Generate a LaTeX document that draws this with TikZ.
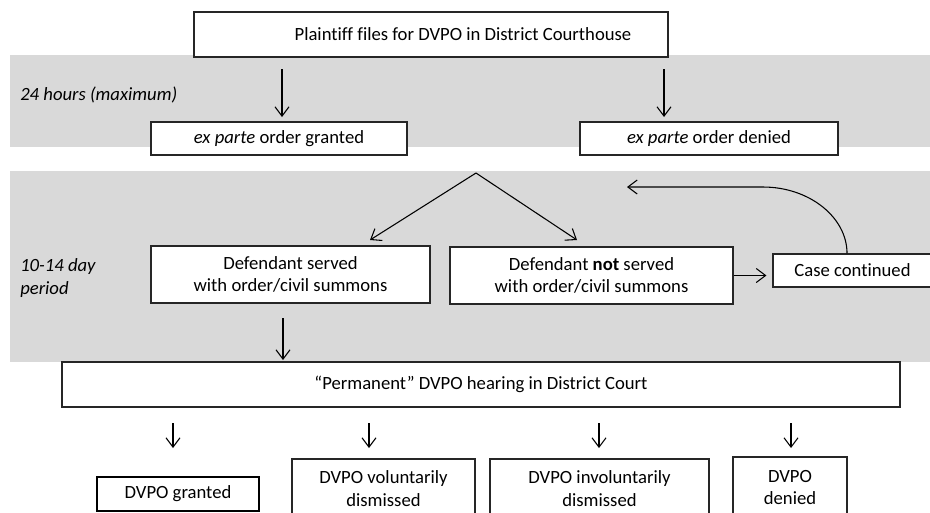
\documentclass[tikz,border=0pt]{standalone}
\usepackage{fontspec}
\setmainfont{Carlito}[Ligatures=NoCommon]
\usetikzlibrary{arrows.meta}
\definecolor{bandgray}{HTML}{D9D9D9}
\tikzset{
  box/.style={draw=black!85, line width=0.8pt, fill=white, inner sep=0pt, align=center,
    font=\fontsize{14}{17}\selectfont},
  thickbox/.style={box, line width=1.6pt, draw=black},
  lbl/.style={inner sep=0pt, align=left, font=\fontsize{14}{17.5}\selectfont\itshape},
  arr/.style={draw=black, line width=0.8pt, -{Straight Barb[length=7pt,width=10.5pt]}},
  band/.style={fill=bandgray, draw=none}
}
\begin{document}
\begin{tikzpicture}[x=0.75pt,y=-0.75pt]
\useasboundingbox (0,0) rectangle (930,512);
\clip (0,0) rectangle (930,512);
% background bands
\fill[band] (10,55) rectangle (930,147);
\fill[band] (10,171) rectangle (930,362);
% labels
\node[lbl, anchor=west] (l24) at (20,95) {24 hours (maximum)};
\node[lbl, anchor=west] (l1014) at (20,278) {10-14 day\\period};
% boxes
\node[box, minimum width=355.5pt, minimum height=33.75pt] (top) at (431,34.5) {\hspace*{48pt}Plaintiff files for DVPO in District Courthouse};
\node[box, minimum width=192pt, minimum height=24.75pt] (exg) at (279,138.5) {\textit{ex parte} order granted};
\node[box, minimum width=193.5pt, minimum height=24.75pt] (exd) at (709,138.5) {\textit{ex parte} order denied};
\node[box, minimum width=209.25pt, minimum height=42.75pt] (served) at (290.5,274.5) {Defendant served\\with order/civil summons};
\node[box, minimum width=212.25pt, minimum height=42.75pt] (notserved) at (591.5,275.5) {Defendant \textbf{not} served\\with order/civil summons};
\node[box, minimum width=119.25pt, minimum height=24.75pt] (case) at (852.5,270.5) {Case continued};
\node[box, minimum width=628.5pt, minimum height=33.75pt] (hearing) at (481,384.5) {“Permanent” DVPO hearing in District Court};
\node[thickbox, minimum width=121.5pt, minimum height=25.5pt] (fg) at (178,494) {DVPO granted};
\node[box, minimum width=137.25pt, minimum height=44.25pt] (vol) at (383.5,488.5) {DVPO voluntarily\\dismissed};
\node[box, minimum width=164.25pt, minimum height=44.25pt] (invol) at (599.5,488.5) {DVPO involuntarily\\dismissed};
\node[box, minimum width=85.5pt, minimum height=45.75pt] (fd) at (790,487.5) {DVPO\\denied};
% free arrow ends
\coordinate (a1s) at (282,69);  \coordinate (a1e) at (282,117);
\coordinate (a2s) at (664,69);  \coordinate (a2e) at (664,117);
\coordinate (apex) at (476,173);
\coordinate (vl) at (370,240);  \coordinate (vr) at (577,240);
\coordinate (loopa) at (763,187); \coordinate (loopend) at (627,187);
\coordinate (lc1) at (847,217); \coordinate (lc2) at (809,187);
\coordinate (sds) at (283,318); \coordinate (sde) at (283,360);
\coordinate (b1s) at (173,423); \coordinate (b1e) at (173,448);
\coordinate (b2s) at (369,423); \coordinate (b2e) at (369,448);
\coordinate (b3s) at (599,423); \coordinate (b3e) at (599,448);
\coordinate (b4s) at (791,423); \coordinate (b4e) at (791,448);
% connectors
\draw[arr] (a1s) -- (a1e);
\draw[arr] (a2s) -- (a2e);
\draw[arr] (apex) -- (vl);
\draw[arr] (apex) -- (vr);
\draw[arr, shorten >=4.5pt] (notserved.east) -- (notserved.east -| case.west);
\draw[arr] ([xshift=-4.1pt]case.north) .. controls (lc1) and (lc2) .. (loopa) -- (loopend);
\draw[arr] (sds) -- (sde);
\draw[arr] (b1s) -- (b1e);
\draw[arr] (b2s) -- (b2e);
\draw[arr] (b3s) -- (b3e);
\draw[arr] (b4s) -- (b4e);
\end{tikzpicture}
\end{document}
